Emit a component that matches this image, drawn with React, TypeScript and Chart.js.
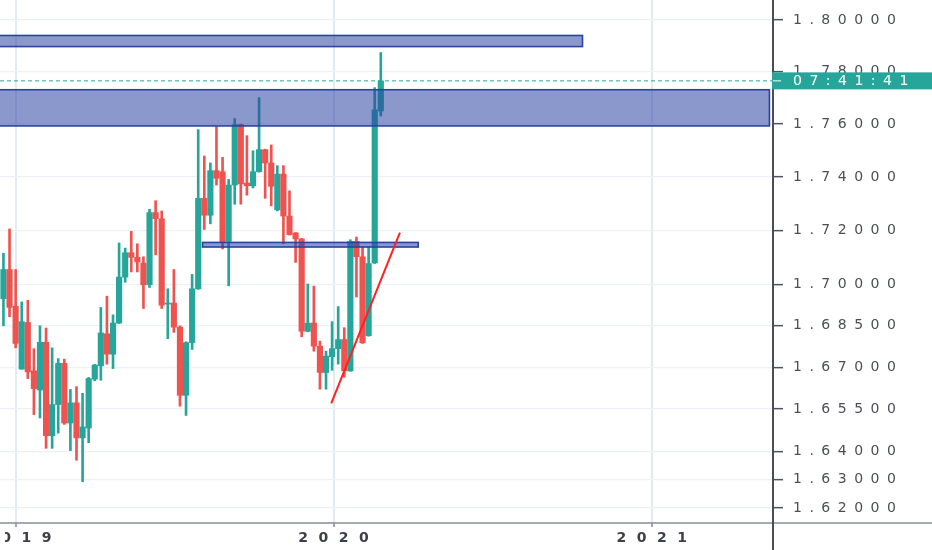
import React, { useEffect, useRef } from "react";
import Chart from "chart.js/auto";

// weekly candles, first one starts on this Monday
const firstWeekStart = "2018-12-17";

const opens = [
  1.6949, 1.7056, 1.6921, 1.6693, 1.6862, 1.6687, 1.6618, 1.679, 1.6455, 1.6566, 1.6714,
  1.65, 1.6572, 1.6447, 1.6482, 1.6657, 1.6705, 1.6821, 1.6747, 1.686, 1.7028, 1.7118,
  1.7101, 1.708, 1.7, 1.7267, 1.7244, 1.6929, 1.6933, 1.6845, 1.6599, 1.6789, 1.6985,
  1.732, 1.7257, 1.7424, 1.742, 1.716, 1.737, 1.7598, 1.7377, 1.7367, 1.742, 1.7503,
  1.7453, 1.7277, 1.7411, 1.7254, 1.7191, 1.7169, 1.683, 1.686, 1.6776, 1.6681, 1.6738,
  1.6767, 1.68, 1.6687, 1.716, 1.7103, 1.6814, 1.708, 1.765,
];
const highs = [
  1.7116, 1.7206, 1.7056, 1.6937, 1.6943, 1.6767, 1.685, 1.6842, 1.677, 1.6731, 1.6729,
  1.662, 1.663, 1.6606, 1.6663, 1.671, 1.6917, 1.6958, 1.689, 1.7154, 1.7135, 1.7197,
  1.7151, 1.7103, 1.7279, 1.7311, 1.7273, 1.6985, 1.7056, 1.685, 1.6792, 1.7038, 1.7579,
  1.7479, 1.7453, 1.7591, 1.7474, 1.7391, 1.7621, 1.76, 1.7556, 1.7499, 1.7701, 1.7505,
  1.7521, 1.7443, 1.7443, 1.7348, 1.7193, 1.7171, 1.7003, 1.6995, 1.6794, 1.6758, 1.6865,
  1.692, 1.6843, 1.7166, 1.7176, 1.7141, 1.7141, 1.7739, 1.7874,
];
const lows = [
  1.685, 1.6883, 1.677, 1.6693, 1.6659, 1.653, 1.6518, 1.641, 1.641, 1.6464, 1.6495,
  1.6402, 1.6368, 1.6292, 1.643, 1.6651, 1.6653, 1.6711, 1.6695, 1.6858, 1.7009, 1.7047,
  1.7047, 1.6913, 1.699, 1.711, 1.6913, 1.6803, 1.6826, 1.656, 1.6527, 1.6764, 1.6983,
  1.7204, 1.7225, 1.737, 1.7132, 1.6996, 1.7298, 1.7298, 1.7332, 1.7359, 1.7418, 1.732,
  1.7292, 1.7273, 1.7151, 1.7183, 1.7082, 1.681, 1.6828, 1.6758, 1.6621, 1.6621, 1.6689,
  1.6711, 1.6664, 1.6685, 1.6955, 1.6786, 1.6812, 1.7078, 1.7631,
];
const closes = [
  1.7056, 1.6917, 1.6786, 1.6865, 1.6683, 1.6623, 1.679, 1.6455, 1.6566, 1.6714, 1.65,
  1.6572, 1.6447, 1.6486, 1.6659, 1.6708, 1.6824, 1.6747, 1.686, 1.7028, 1.7118, 1.7101,
  1.7084, 1.7, 1.7267, 1.7244, 1.6925, 1.6933, 1.6845, 1.6599, 1.6789, 1.6985, 1.732,
  1.7257, 1.7424, 1.7395, 1.7156, 1.737, 1.7598, 1.7374, 1.7367, 1.742, 1.7503, 1.7453,
  1.7365, 1.7411, 1.7254, 1.7185, 1.7169, 1.683, 1.686, 1.6776, 1.6681, 1.674, 1.6767,
  1.68, 1.6687, 1.716, 1.7103, 1.6788, 1.7078, 1.7654, 1.7765,
];

const priceTicks = [1.8, 1.78, 1.76, 1.74, 1.72, 1.7, 1.685, 1.67, 1.655, 1.64, 1.63, 1.62];
const yearLabels = ["2019", "2020", "2021"];

// drawn rectangles (time range / price range)
const zoneStarts = ["2018-10-01", "2018-10-01", "2019-08-03"];
const zoneEnds = ["2020-10-13", "2021-05-16", "2020-04-07"];
const zoneTops = [1.794, 1.7731, 1.7156];
const zoneBottoms = [1.7897, 1.7593, 1.7139];

// hand drawn trend line
const trendDates = ["2019-12-29", "2020-03-17"];
const trendPrices = [1.657, 1.7192];

const countdownLabel = "07:41:41";

const TEAL = "#26a69a";
const RED = "#ef5350";
const X_MIN = -2.711;
const X_MAX = 124.3;
const Y_MIN = 1.61476;
const Y_MAX = 1.80779;

const ORIGIN = Date.UTC(2019, 0, 1);
const toWeeks = (d: string) => (Date.parse(d + "T00:00:00Z") - ORIGIN) / (7 * 86400000);

// wide, spaced-out axis text like the screenshot
const spaceLabels = (scale: any, spacing: number, shift: number) => {
  if (!scale || scale.__spaced) return;
  const orig = scale.drawLabels.bind(scale);
  scale.drawLabels = (area: any) => {
    const c = scale.ctx;
    c.save();
    c.letterSpacing = spacing + "px";
    c.translate(shift, 0);
    orig(area);
    c.restore();
  };
  scale.__spaced = true;
};

export default function App() {
  const canvasRef = useRef<HTMLCanvasElement | null>(null);
  const chartRef = useRef<Chart | null>(null);

  useEffect(() => {
    document.body.style.margin = "0";
    if (!canvasRef.current) return;
    if (chartRef.current) chartRef.current.destroy();
    const ctx = canvasRef.current.getContext("2d");
    if (!ctx) return;

    const start = toWeeks(firstWeekStart);
    const xs = opens.map((_, i) => start + i);
    const colors = opens.map((o, i) => (closes[i] >= o ? TEAL : RED));
    const lastClose = closes[closes.length - 1];

    const zonesPlugin = {
      id: "zones",
      afterDatasetDraw(chart: any, args: any) {
        if (args.index !== 2) return;
        const { ctx, chartArea, scales } = chart;
        ctx.save();
        ctx.beginPath();
        ctx.rect(chartArea.left, chartArea.top, chartArea.right - chartArea.left, chartArea.bottom - chartArea.top);
        ctx.clip();
        zoneStarts.forEach((s, i) => {
          const x0 = scales.x.getPixelForValue(toWeeks(s));
          const x1 = scales.x.getPixelForValue(toWeeks(zoneEnds[i]));
          const y0 = scales.y.getPixelForValue(zoneTops[i]);
          const y1 = scales.y.getPixelForValue(zoneBottoms[i]);
          ctx.fillStyle = "rgba(40, 65, 160, 0.54)";
          ctx.fillRect(x0, y0, x1 - x0, y1 - y0);
          ctx.strokeStyle = "#2b44a0";
          ctx.lineWidth = 1.6;
          ctx.strokeRect(x0, y0, x1 - x0, y1 - y0);
        });
        ctx.restore();
      },
    };

    const axisPlugin = {
      id: "axisLines",
      afterUpdate(chart: any) {
        spaceLabels(chart.scales.x, 10.5, 5);
        spaceLabels(chart.scales.y, 7.5, 0);
      },
      afterDraw(chart: any) {
        const { ctx, chartArea, scales, width, height } = chart;
        ctx.save();
        ctx.strokeStyle = "#8a8d96";
        ctx.lineWidth = 1.5;
        ctx.beginPath();
        ctx.moveTo(0, chartArea.bottom);
        ctx.lineTo(width, chartArea.bottom);
        ctx.stroke();
        ctx.strokeStyle = "#4a4d57";
        ctx.lineWidth = 2;
        ctx.beginPath();
        ctx.moveTo(chartArea.right, 0);
        ctx.lineTo(chartArea.right, height);
        ctx.stroke();

        // last price label with countdown
        const py = scales.y.getPixelForValue(lastClose);
        ctx.fillStyle = TEAL;
        ctx.fillRect(chartArea.right - 1, py - 8.5, width - chartArea.right + 1, 17);
        ctx.strokeStyle = "#ffffff";
        ctx.lineWidth = 1;
        ctx.beginPath();
        ctx.moveTo(chartArea.right, py);
        ctx.lineTo(chartArea.right + 8, py);
        ctx.stroke();
        ctx.fillStyle = "#ffffff";
        ctx.font = "14px 'DejaVu Sans'";
        (ctx as any).letterSpacing = "7.5px";
        ctx.textAlign = "left";
        ctx.textBaseline = "middle";
        ctx.fillText(countdownLabel, chartArea.right + 20, py + 0.5);
        ctx.restore();
      },
    };

    chartRef.current = new Chart(ctx, {
      type: "bar",
      data: {
        datasets: [
          {
            type: "line",
            label: "trend",
            data: trendDates.map((d, i) => ({ x: toWeeks(d), y: trendPrices[i] })),
            borderColor: "#ff2020",
            borderWidth: 2,
            pointRadius: 0,
          },
          {
            type: "line",
            label: "last",
            data: [
              { x: X_MIN, y: lastClose },
              { x: X_MAX, y: lastClose },
            ],
            borderColor: TEAL,
            borderWidth: 1,
            borderDash: [4, 3],
            pointRadius: 0,
          },
          {
            type: "bar",
            label: "bodies",
            data: xs.map((x, i) => ({ x, y: [opens[i], closes[i]] })),
            backgroundColor: colors,
            barThickness: 5.5,
            grouped: false,
            minBarLength: 1,
          },
          {
            type: "bar",
            label: "wicks",
            data: xs.map((x, i) => ({ x, y: [lows[i], highs[i]] })),
            backgroundColor: colors,
            barThickness: 2,
            grouped: false,
          },
        ] as any,
      },
      options: {
        animation: false,
        responsive: true,
        maintainAspectRatio: false,
        layout: { padding: 0, autoPadding: false },
        plugins: {
          legend: { display: false },
          tooltip: { enabled: false },
        },
        scales: {
          x: {
            type: "linear",
            position: "bottom",
            min: X_MIN,
            max: X_MAX,
            offset: false,
            afterBuildTicks: (s: any) => {
              s.ticks = yearLabels.map((y) => ({ value: toWeeks(`${y}-01-01`) }));
            },
            afterFit: (s: any) => {
              s.height = 27;
              s.paddingLeft = 0;
              s.paddingRight = 0;
            },
            grid: {
              color: "#e1ebf2",
              lineWidth: 2,
              tickLength: 4,
              tickColor: "#868993",
              tickWidth: 1.5,
              offset: false,
            },
            border: { display: false },
            ticks: {
              autoSkip: false,
              maxRotation: 0,
              padding: 3,
              color: "#3d4049",
              font: { family: "DejaVu Sans", size: 14, weight: "bold" },
              callback: (_v: any, i: number) => yearLabels[i],
            },
          },
          y: {
            type: "logarithmic",
            position: "right",
            min: Y_MIN,
            max: Y_MAX,
            beginAtZero: false,
            afterBuildTicks: (s: any) => {
              s.ticks = priceTicks.map((v) => ({ value: v }));
            },
            afterFit: (s: any) => {
              s.width = 159;
              s.paddingTop = 0;
              s.paddingBottom = 0;
            },
            grid: {
              color: "#edf1f5",
              lineWidth: 1.3,
              tickLength: 10,
              tickColor: "#50535e",
              tickWidth: 1.5,
            },
            border: { display: false },
            ticks: {
              autoSkip: false,
              padding: 10,
              color: "#4c4f58",
              font: { family: "DejaVu Sans", size: 14 },
              callback: (v: any) => Number(v).toFixed(5),
            },
          },
        },
      } as any,
      plugins: [zonesPlugin, axisPlugin],
    });

    return () => {
      if (chartRef.current) {
        chartRef.current.destroy();
        chartRef.current = null;
      }
    };
  }, []);

  return (
    <div style={{ width: "932px", height: "550px", position: "relative" }}>
      <canvas ref={canvasRef}></canvas>
    </div>
  );
}
